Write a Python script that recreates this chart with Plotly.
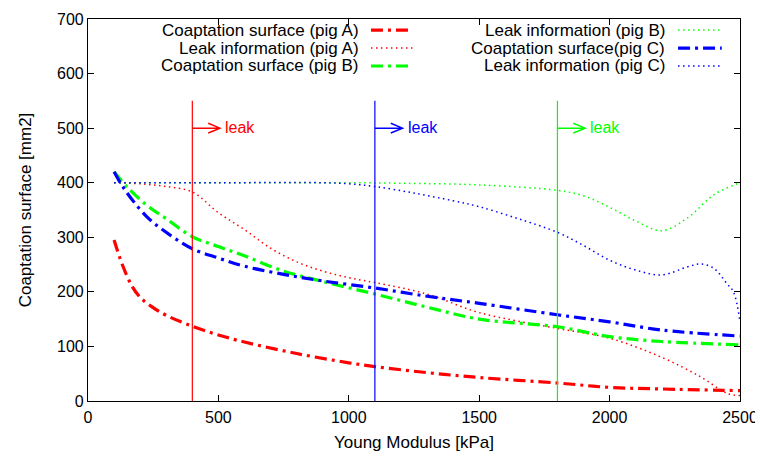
import plotly.graph_objects as go

# ---------------- data ----------------
x_coapt_a = [100, 130, 167, 200, 244, 300, 400, 500, 600, 800, 1000, 1100, 1300, 1500, 1800, 2000, 2200, 2500]
y_coapt_a = [295, 252, 212, 190, 173, 157, 137, 121, 108, 87, 70, 63, 52, 43, 33, 25, 22, 19]

x_leak_a = [100, 200, 300, 400, 500, 600, 700, 800, 900, 1000, 1100, 1300, 1500, 1800, 2000, 2200, 2350, 2450, 2500]
y_leak_a = [400, 398, 393, 383, 345, 314, 280, 255, 238, 226, 217, 196, 162, 133, 115, 80, 44, 14, 10]

x_coapt_b = [100, 150, 225, 300, 400, 500, 600, 750, 900, 1100, 1300, 1500, 1800, 2000, 2200, 2500]
y_coapt_b = [420, 392, 359, 334, 301, 283, 266, 238, 219, 196, 172, 150, 136, 118, 109, 103]

x_leak_b = [100, 500, 1000, 1200, 1500, 1800, 1900, 2000, 2100, 2200, 2300, 2400, 2500]
y_leak_b = [400, 400, 400, 399, 396, 386, 376, 355, 330, 312, 336, 378, 400]

x_coapt_c = [100, 140, 225, 315, 400, 500, 600, 750, 900, 1100, 1300, 1500, 1800, 2000, 2200, 2500]
y_coapt_c = [420, 388, 338, 304, 279, 262, 247, 232, 220, 207, 192, 179, 158, 145, 130, 119]

x_leak_c = [100, 500, 900, 1000, 1100, 1250, 1400, 1500, 1650, 1800, 1900, 2000, 2100, 2200, 2300, 2350, 2400, 2450, 2475, 2500]
y_leak_c = [400, 400, 400, 398, 393, 381, 367, 356, 334, 309, 285, 258, 240, 231, 246, 251, 243, 215, 200, 145]

leak_x = [400, 1100, 1800]
leak_colors = ["#ff0000", "#0000ff", "#00ff00"]
leak_text = "leak"

labels = [
    "Coaptation surface (pig A)",
    "Leak information (pig A)",
    "Coaptation surface (pig B)",
    "Leak information (pig B)",
    "Coaptation surface(pig C)",
    "Leak information (pig C)",
]

x_ticks = [0, 500, 1000, 1500, 2000, 2500]
y_ticks = [0, 100, 200, 300, 400, 500, 600, 700]

# ---------------- styles ----------------
DASHDOT = "12px,5px,3px,5px"
DOT = "1.5px,3.5px"
FONT = "Liberation Sans, Arial, Helvetica, sans-serif"

series = [
    (x_coapt_a, y_coapt_a, "#ff0000", 3.2, DASHDOT),
    (x_leak_a, y_leak_a, "#ff0000", 1.5, DOT),
    (x_coapt_b, y_coapt_b, "#00ff00", 3.2, DASHDOT),
    (x_leak_b, y_leak_b, "#00ff00", 1.5, DOT),
    (x_coapt_c, y_coapt_c, "#0000ff", 3.2, DASHDOT),
    (x_leak_c, y_leak_c, "#0000ff", 1.5, DOT),
]

fig = go.Figure()
for (xs, ys, col, w, dash), name in zip(series, labels):
    fig.add_trace(go.Scatter(
        x=xs, y=ys, mode="lines", name=name, showlegend=False,
        line=dict(color=col, width=w, dash=dash, shape="spline", smoothing=1.0),
    ))

shapes = []
annotations = []

# leak markers
for lx, col in zip(leak_x, leak_colors):
    shapes.append(dict(type="line", xref="x", yref="y", x0=lx, x1=lx, y0=0, y1=550,
                       line=dict(color=col, width=1.2)))
    tip = lx + 106
    shapes.append(dict(type="path", xref="x", yref="y",
                       path=f"M {lx},500 L {tip},500 M {tip-45},509 L {tip},500 L {tip-45},491",
                       line=dict(color=col, width=1.5)))
    annotations.append(dict(x=lx + 118, y=502, xref="x", yref="y", text=leak_text,
                            showarrow=False, xanchor="left", yanchor="middle",
                            font=dict(color=col, size=16, family=FONT)))

# manual legend (text left of sample line, like gnuplot)
legend_rows_y = [0.971, 0.924, 0.877]
col_text_x = [0.4187, 0.888]
col_line_x = [(0.434, 0.4985), (0.905, 0.972)]
for i, ((xs, ys, col, w, dash), name) in enumerate(zip(series, labels)):
    c = i // 3
    r = i % 3
    yy = legend_rows_y[r]
    annotations.append(dict(x=col_text_x[c], y=yy, xref="paper", yref="paper", text=name,
                            showarrow=False, xanchor="right", yanchor="middle",
                            font=dict(color="black", size=17, family=FONT)))
    shapes.append(dict(type="line", xref="paper", yref="paper",
                       x0=col_line_x[c][0], x1=col_line_x[c][1], y0=yy, y1=yy,
                       line=dict(color=col, width=w, dash=dash)))

axis_common = dict(
    showline=True, linecolor="black", linewidth=1.2, mirror="ticks",
    ticks="inside", ticklen=6, tickcolor="black", tickwidth=1,
    showgrid=False, zeroline=False, automargin=False,
    tickfont=dict(size=16, family=FONT, color="black"),
)

fig.update_layout(
    width=763, height=451,
    margin=dict(l=80, r=31, t=11, b=58),
    paper_bgcolor="white", plot_bgcolor="white",
    font=dict(family=FONT, size=16, color="black"),
    xaxis=dict(range=[0, 2500], tickvals=x_ticks, ticklabelstandoff=2,
               title=dict(text="Young Modulus [kPa]", font=dict(size=17, family=FONT), standoff=10),
               **axis_common),
    yaxis=dict(range=[0, 700], tickvals=y_ticks,
               title=dict(text="Coaptation surface [mm2]", font=dict(size=17, family=FONT), standoff=21),
               **axis_common),
    shapes=shapes,
    annotations=annotations,
    showlegend=False,
)

fig.write_html("out.html")
